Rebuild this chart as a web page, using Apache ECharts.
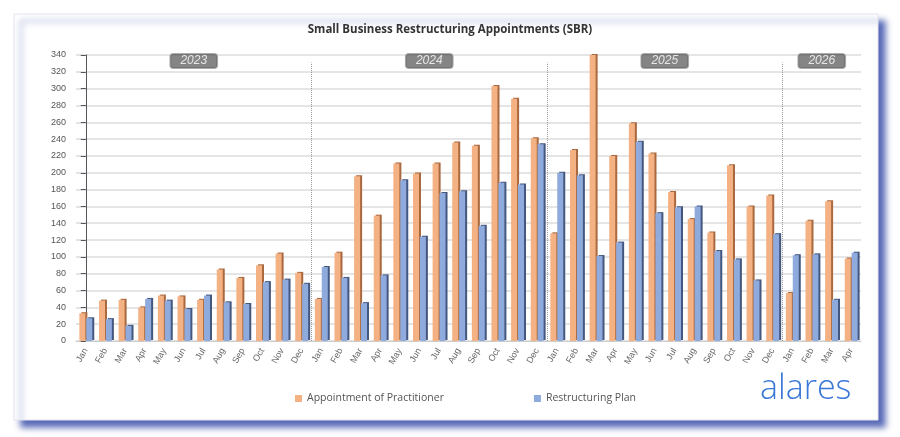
<!DOCTYPE html>
<html><head><meta charset="utf-8">
<script src="https://cdn.jsdelivr.net/npm/echarts@6/dist/echarts.min.js"></script>
<style>html,body{margin:0;background:#fff}#c{width:900px;height:437px}</style>
</head><body><div id="c"></div>
<script>
const months = ['Jan','Feb','Mar','Apr','May','Jun','Jul','Aug','Sep','Oct','Nov','Dec','Jan','Feb','Mar','Apr','May','Jun','Jul','Aug','Sep','Oct','Nov','Dec','Jan','Feb','Mar','Apr','May','Jun','Jul','Aug','Sep','Oct','Nov','Dec','Jan','Feb','Mar','Apr'];
const appointment = [33,48,49,40,54,53,49,85,75,90,104,81, 50,105,196,149,211,199,211,236,232,303,288,241, 128,227,340,220,259,223,177,145,129,209,160,173, 57,143,166,98];
const restructuring = [27,26,18,50,48,38,54,46,44,70,73,68, 88,75,45,78,191,124,176,178,137,188,186,234, 200,197,101,117,237,152,159,160,107,97,72,127, 102,103,49,105];
const years = ['2023','2024','2025','2026'];
const yearCenters = [5.5,17.5,29.5,37.5];
const yearBounds = [11.5,23.5,35.5];

const chart = echarts.init(document.getElementById('c'));
chart.setOption({
  backgroundColor:'#fff',
  graphic:[
    {type:'rect',shape:{x:14,y:14,width:864,height:406},style:{fill:'#fff',stroke:'#e4e4ec',shadowBlur:6,shadowOffsetX:7,shadowOffsetY:7,shadowColor:'rgba(60,80,170,0.85)'},z:-10},
    {type:'text',left:760,top:372,style:{text:'alares',fill:'#3a78d8',font:'300 34px "Open Sans", sans-serif'}}
  ],
  title:{text:'Small Business Restructuring Appointments (SBR)',left:'center',top:19,textStyle:{fontSize:11.5,fontWeight:'bold',color:'#333',fontFamily:'Open Sans'}},
  legend:{bottom:28,left:290,itemGap:90,itemWidth:7,itemHeight:7,icon:'rect',textStyle:{fontSize:10.5,color:'#555',fontFamily:'Open Sans'},data:['Appointment of Practitioner','Restructuring Plan']},
  grid:{left:76,right:39,top:55,bottom:96},
  xAxis:[
    {type:'category',data:months,axisTick:{show:false},axisLine:{lineStyle:{color:'#ccc'}},axisLabel:{rotate:60,fontSize:9,color:'#666',interval:0}},
    {type:'value',min:-0.5,max:39.5,show:false}
  ],
  yAxis:{type:'value',min:0,max:340,interval:20,axisLabel:{fontSize:9,color:'#555',margin:10},splitLine:{lineStyle:{color:'#ddd',width:1.5}}},
  series:[
    {name:'Appointment of Practitioner',type:'bar',data:appointment,barWidth:6,barGap:'15%',
     itemStyle:{color:'#f4b183',shadowColor:'#a9683e',shadowOffsetX:2,shadowOffsetY:-1}},
    {name:'Restructuring Plan',type:'bar',data:restructuring,barWidth:6,
     itemStyle:{color:'#8faadc',shadowColor:'#44577f',shadowOffsetX:2,shadowOffsetY:-1}},
    {type:'scatter',xAxisIndex:1,symbolSize:0,silent:true,
     data:yearCenters.map((x,i)=>({value:[x,333],label:{show:true,formatter:years[i],position:'inside',backgroundColor:'#666',borderColor:'#999',borderWidth:1,color:'#fff',fontStyle:'italic',fontSize:12,padding:[1,10],borderRadius:3}})),
     markLine:{symbol:'none',silent:true,label:{show:false},lineStyle:{color:'#999',type:'dotted',width:1},
       data:yearBounds.map(x=>[{coord:[x,0]},{coord:[x,331]}])}}
  ]
});
</script></body></html>
